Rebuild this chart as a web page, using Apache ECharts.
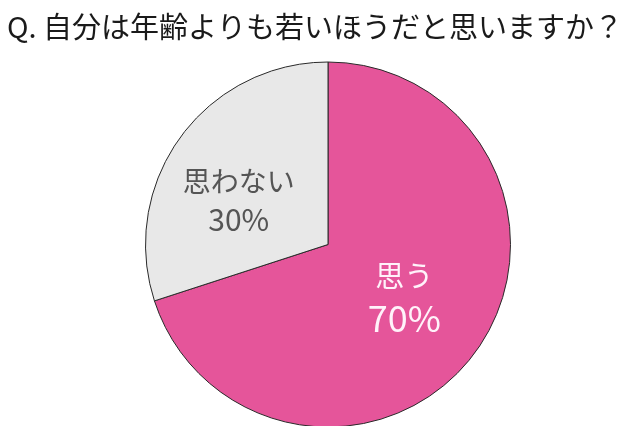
<!DOCTYPE html>
<html>
<head>
<meta charset="utf-8">
<script src="https://cdn.jsdelivr.net/npm/echarts@6/dist/echarts.min.js"></script>
<style>
html,body{margin:0;padding:0;background:#fff;}
#chart{width:640px;height:426px;}
</style>
</head>
<body>
<div id="chart"></div>
<script>
const titleText = 'Q. 自分は年齢よりも若いほうだと思いますか？';
const categories = ['思う', '思わない'];
const values = [70, 30];
const sliceColors = ['#E5559A', '#E8E8E8'];

const chart = echarts.init(document.getElementById('chart'), null, {renderer: 'canvas'});
const font = '"Noto Sans CJK JP", "Noto Sans", sans-serif';

const data = categories.map((c, i) => {
  const item = {name: c, value: values[i], itemStyle: {color: sliceColors[i]}};
  if (i === 0) {
    item.label = {
      formatter: '{n|{b}}\n{p|{c}%}',
      rich: {
        n: {fontSize: 29, color: '#FFF2FA', fontFamily: font, lineHeight: 42},
        p: {fontSize: 36, color: '#FFF2FA', fontFamily: font, lineHeight: 42}
      },
      offset: [0, -3]
    };
  } else {
    item.label = {
      formatter: '{n|{b}}\n{p|{c}%}',
      rich: {
        n: {fontSize: 28, color: '#555555', fontFamily: font, lineHeight: 38},
        p: {fontSize: 30, color: '#555555', fontFamily: font, lineHeight: 38}
      },
      offset: [-13, 11]
    };
  }
  return item;
});

chart.setOption({
  backgroundColor: '#ffffff',
  animation: false,
  title: {
    text: titleText,
    left: 2,
    top: 7,
    textStyle: {fontSize: 29, fontWeight: 'normal', color: '#1a1a1a', fontFamily: font}
  },
  series: [{
    type: 'pie',
    center: [328, 244.5],
    radius: [0, 182.5],
    startAngle: 90,
    clockwise: true,
    data: data,
    itemStyle: {borderColor: '#2a2a2a', borderWidth: 1},
    label: {show: true, position: 'inside'},
    labelLine: {show: false},
    emphasis: {disabled: true}
  }]
});
</script>
</body>
</html>
